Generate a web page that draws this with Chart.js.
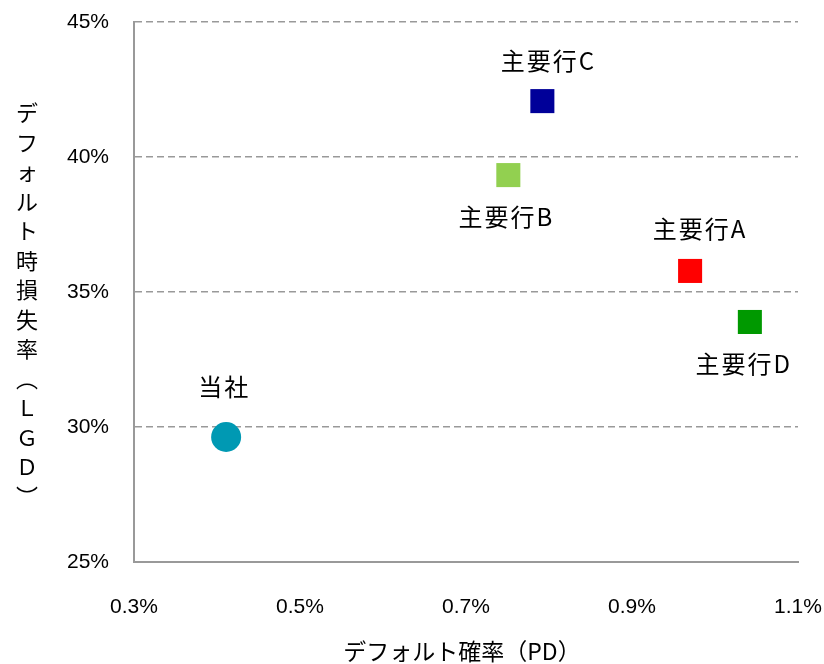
<!DOCTYPE html>
<html>
<head>
<meta charset="utf-8">
<script src="https://cdn.jsdelivr.net/npm/chart.js@4"></script>
<style>
  body { margin: 0; background: #fff; }
  #lgdChart { display: block; }
</style>
</head>
<body>
<canvas id="lgdChart" width="824" height="664"></canvas>
<script>
const banks = ['当社', '主要行A', '主要行B', '主要行C', '主要行D'];
const pdValues = [0.411, 0.970, 0.751, 0.792, 1.042];
const lgdValues = [29.63, 35.78, 39.33, 42.07, 33.89];
const xTitle = 'デフォルト確率（PD）';
const yTitle = 'デフォルト時損失率（ＬＧＤ）';

const pointColors = ['#0099b3', '#ff0000', '#92d050', '#000099', '#009900'];
const pointShapes = ['circle', 'rect', 'rect', 'rect', 'rect'];
const pointSizes = [15, 17, 17, 17, 17];
// label offset from the point, in px
const labelShift = [[-3, -50], [9, -42], [-3, 42], [5, -40], [-7, 42]];

const jpFont = '"Noto Sans CJK JP", sans-serif';
const numFont = '"Liberation Sans", Arial, sans-serif';

// brackets turn into their vertical forms when stacked
const verticalForms = { '（': '︵', '）': '︶' };

const labelPlugin = {
    id: 'labels',
    afterDatasetsDraw(chart) {
        const ctx = chart.ctx;
        const meta = chart.getDatasetMeta(0);
        ctx.save();
        ctx.fillStyle = '#000';
        ctx.textAlign = 'center';
        ctx.textBaseline = 'middle';
        ctx.font = '24px ' + jpFont;
        ctx.letterSpacing = '2px';
        meta.data.forEach((pt, i) => {
            ctx.fillText(banks[i], pt.x + labelShift[i][0] + 1, pt.y + labelShift[i][1]);
        });

        // axis titles
        ctx.font = '23px ' + jpFont;
        ctx.letterSpacing = '0px';
        ctx.fillText(xTitle, 462, 651);
        ctx.font = '22px ' + jpFont;
        const chars = Array.from(yTitle);
        const pitch = 29.5;
        const startY = 113;
        chars.forEach((c, i) => {
            ctx.fillText(verticalForms[c] || c, 27, startY + i * pitch);
        });
        ctx.restore();
    }
};

function noEdgePadding(scale) {
    scale.paddingTop = 0;
    scale.paddingBottom = 0;
    scale.paddingLeft = 0;
    scale.paddingRight = 0;
}

new Chart(document.getElementById('lgdChart'), {
    type: 'scatter',
    data: {
        datasets: [{
            data: pdValues.map((x, i) => ({ x: x, y: lgdValues[i] })),
            backgroundColor: pointColors,
            borderColor: pointColors,
            borderWidth: 0,
            pointStyle: pointShapes,
            pointRadius: pointSizes,
            pointHoverRadius: pointSizes
        }]
    },
    options: {
        responsive: false,
        animation: false,
        layout: { padding: { top: 22, right: 26, left: 0, bottom: 0 } },
        plugins: {
            legend: { display: false },
            tooltip: { enabled: false }
        },
        scales: {
            x: {
                type: 'linear',
                min: 0.3,
                max: 1.1,
                afterFit(scale) { scale.height = 102; noEdgePadding(scale); },
                grid: { display: false, drawTicks: false },
                border: { color: '#999', width: 2 },
                ticks: {
                    stepSize: 0.2,
                    padding: 33,
                    color: '#000',
                    font: { size: 21, family: numFont },
                    callback: v => v.toFixed(1) + '%'
                }
            },
            y: {
                min: 25,
                max: 45,
                afterFit(scale) { scale.width = 134; noEdgePadding(scale); },
                grid: { color: '#999', lineWidth: 1.5, drawTicks: false },
                border: { color: '#999', width: 2, dash: [7, 4] },
                ticks: {
                    stepSize: 5,
                    padding: 25,
                    color: '#000',
                    font: { size: 21, family: numFont },
                    callback: v => v + '%'
                }
            }
        }
    },
    plugins: [labelPlugin]
});
</script>
</body>
</html>
